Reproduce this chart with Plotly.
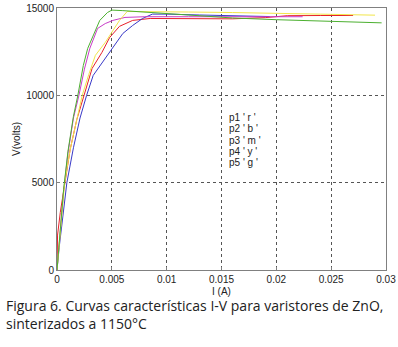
import plotly.graph_objects as go

# Data (I in A, V in volts)
I_r = [0, 0.00005, 0.0003, 0.0007, 0.0012, 0.0018, 0.0025, 0.0032, 0.0041, 0.0048, 0.0057, 0.0069, 0.0085, 0.010, 0.013, 0.016, 0.019, 0.021, 0.024, 0.027]
V_r = [0, 2000, 3300, 5000, 6900, 8600, 10000, 11540, 12460, 13310, 13950, 14290, 14400, 14400, 14390, 14380, 14450, 14560, 14570, 14570]

I_b = [0, 0.0002, 0.0009, 0.0015, 0.0021, 0.0027, 0.0033, 0.0044, 0.0051, 0.0060, 0.0069, 0.0078, 0.0087, 0.010, 0.013, 0.016, 0.0194]
V_b = [0, 1300, 5000, 7000, 8700, 10000, 11140, 12110, 12740, 13540, 14000, 14400, 14650, 14650, 14600, 14550, 14510]

I_m = [0, 0.0002, 0.0006, 0.001, 0.0015, 0.002, 0.0025, 0.003, 0.0037, 0.0044, 0.0051, 0.0062, 0.008, 0.012, 0.016, 0.020, 0.0224]
V_m = [0, 1500, 4500, 6700, 8700, 10000, 11500, 12700, 13830, 14110, 14290, 14460, 14500, 14500, 14510, 14510, 14500]

I_y = [0, 0.0002, 0.0007, 0.0012, 0.0018, 0.0023, 0.0029, 0.0035, 0.0044, 0.0050, 0.0057, 0.0064, 0.008, 0.012, 0.016, 0.020, 0.025, 0.029]
V_y = [0, 1300, 5000, 6900, 8600, 10000, 11200, 12290, 13030, 13600, 14290, 14800, 14800, 14770, 14740, 14700, 14640, 14590]

I_g = [0, 0.0002, 0.0006, 0.001, 0.0015, 0.0019, 0.0024, 0.0028, 0.0035, 0.0039, 0.0046, 0.005, 0.006, 0.008, 0.010, 0.012, 0.016, 0.020, 0.025, 0.0296]
V_g = [0, 1500, 4600, 6800, 8800, 10000, 11710, 12690, 13710, 14290, 14740, 14880, 14850, 14760, 14690, 14570, 14430, 14330, 14230, 14150]

legend_lines = ["p1 ' r '", "p2 ' b '", "p3 ' m '", "p4 ' y '", "p5 ' g '"]

x_ticks = [0, 0.005, 0.01, 0.015, 0.02, 0.025, 0.03]
x_tick_text = ["0", "0.005", "0.01", "0.015", "0.02", "0.025", "0.03"]
y_ticks = [0, 5000, 10000, 15000]
y_tick_text = ["0", "5000", "10000", "15000"]

series = [
    (I_r, V_r, "#e8202a"),
    (I_b, V_b, "#3a3ac8"),
    (I_m, V_m, "#c83cc8"),
    (I_y, V_y, "#f2e64a"),
    (I_g, V_g, "#4cb030"),
]

fig = go.Figure()
for xs, ys, c in series:
    fig.add_trace(go.Scatter(x=xs, y=ys, mode="lines", line=dict(color=c, width=1),
                             showlegend=False, hoverinfo="skip"))

font_axes = dict(family="Liberation Sans, Arial, sans-serif", size=10, color="#222222")

fig.update_layout(
    width=398, height=347,
    margin=dict(l=57, r=12, t=8, b=77),
    paper_bgcolor="white", plot_bgcolor="white",
    font=font_axes,
)
fig.update_xaxes(
    range=[0, 0.03], tickvals=x_ticks, ticktext=x_tick_text, automargin=False,
    showgrid=True, gridcolor="#555555", griddash="dot", gridwidth=1,
    showline=True, linecolor="#808080", linewidth=1, mirror=True,
    ticks="inside", ticklen=3, tickcolor="#808080", zeroline=False,
)
fig.update_yaxes(
    range=[0, 15000], tickvals=y_ticks, ticktext=y_tick_text, automargin=False,
    showgrid=True, gridcolor="#555555", griddash="dot", gridwidth=1,
    showline=True, linecolor="#808080", linewidth=1, mirror=True,
    ticks="inside", ticklen=3, tickcolor="#808080", zeroline=False,
)

# axis titles
fig.add_annotation(x=0.5, y=-0.082, xref="paper", yref="paper", text="I (A)",
                   showarrow=False, xanchor="center", yanchor="middle",
                   font=dict(size=10, color="#222222"))
fig.add_annotation(x=-0.125, y=0.5, xref="paper", yref="paper", text="V(volts)",
                   showarrow=False, xanchor="center", yanchor="middle", textangle=-90,
                   font=dict(size=10, color="#222222"))

for k, t in enumerate(legend_lines):
    fig.add_annotation(x=0.0155, y=8750 - k * 655, xref="x", yref="y", text=t,
                       showarrow=False, xanchor="left", yanchor="middle",
                       font=dict(size=10, color="#222222"))

fig.add_annotation(x=-0.162, y=-0.090, xref="paper", yref="paper",
                   text="Figura 6. Curvas características I-V para varistores de ZnO,<br>sinterizados a 1150°C",
                   showarrow=False, xanchor="left", yanchor="top", align="left",
                   font=dict(family="Open Sans, sans-serif", size=14, color="#222222"))

fig.write_html("out.html", config={"displayModeBar": False},
               post_script="document.body.style.margin='0';document.body.style.padding='0';")
